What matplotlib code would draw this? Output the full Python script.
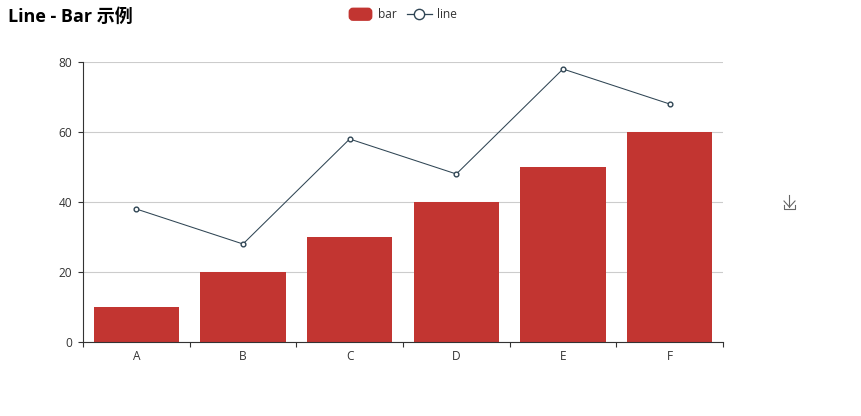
import matplotlib
matplotlib.use('Agg')
from matplotlib import pyplot as plt
from matplotlib.patches import FancyBboxPatch
import numpy as np

plt.rcParams['font.family'] = ['Open Sans', 'Noto Sans CJK SC', 'DejaVu Sans']

categories = ['A', 'B', 'C', 'D', 'E', 'F']
bar_values = [10, 20, 30, 40, 50, 60]
line_values = [38, 28, 58, 48, 78, 68]
y_ticks = [0, 20, 40, 60, 80]

W, H = 862, 416
RED = '#c23531'
NAVY = '#2f4554'
AXIS = '#333333'

fig = plt.figure(figsize=(W / 100, H / 100), dpi=100, facecolor='white')
# plot area in pixels: x 83-723, y 62-342
ax = fig.add_axes([83 / W, 1 - 342 / H, 640 / W, 280 / H])

x = np.arange(len(categories))
ax.bar(x, bar_values, width=0.8, color=RED, zorder=2)
ax.plot(x, line_values, color=NAVY, lw=0.75, marker='o', ms=3.4, mfc='white',
        mec=NAVY, mew=1.0, zorder=3)

ax.set_xlim(-0.5, 5.5)
ax.set_ylim(0, 80)
ax.set_yticks(y_ticks)
ax.set_xticks(x)
ax.set_xticklabels(categories)
# ticks sit between the categories, labels in the middle
ax.set_xticks(np.arange(-0.5, 6, 1), minor=True)
ax.tick_params(axis='x', which='major', length=0, pad=6, labelsize=8.6, labelcolor=AXIS)
ax.tick_params(axis='x', which='minor', length=3.6, width=0.8, color=AXIS)
ax.tick_params(axis='y', length=3.6, width=0.8, color=AXIS, pad=4, labelsize=8.6, labelcolor=AXIS)
ax.grid(axis='y', color='#cccccc', lw=0.8, zorder=1)
ax.set_axisbelow(True)
for s in ['top', 'right']:
    ax.spines[s].set_visible(False)
for s in ['left', 'bottom']:
    ax.spines[s].set_color(AXIS)
    ax.spines[s].set_linewidth(0.8)
    ax.spines[s].set_zorder(4)

# overlay in pixel coordinates for title, legend and the save icon
ov = fig.add_axes([0, 0, 1, 1], facecolor='none')
ov.set_xlim(0, W)
ov.set_ylim(H, 0)
ov.axis('off')

ov.text(8, 16.5, 'Line - Bar 示例', fontsize=13, fontweight='bold', color='black',
        ha='left', va='center')

ov.add_patch(FancyBboxPatch((350, 9), 21, 10.5, boxstyle='round,pad=0,rounding_size=3',
                            mutation_aspect=1, fc=RED, ec=RED, lw=2))
ov.text(378, 14.5, 'bar', fontsize=8.6, color=AXIS, va='center', ha='left')
ov.plot([407, 432], [14, 14], color=NAVY, lw=0.9)
ov.plot([419.5], [14], marker='o', ms=7.4, mfc='white', mec=NAVY, mew=1)
ov.text(437, 14.5, 'line', fontsize=8.6, color=AXIS, va='center', ha='left')

# save-as-image icon
ICON = '#666666'
ov.plot([789.5, 789.5], [195, 207], color=ICON, lw=0.8)
ov.plot([784, 789.5, 795], [201, 207, 201], color=ICON, lw=0.8)
ov.plot([784, 784, 795.5, 795.5], [205, 208.5, 208.5, 205], color=ICON, lw=0.8)

fig.savefig('out.png', dpi=100, facecolor='white')
